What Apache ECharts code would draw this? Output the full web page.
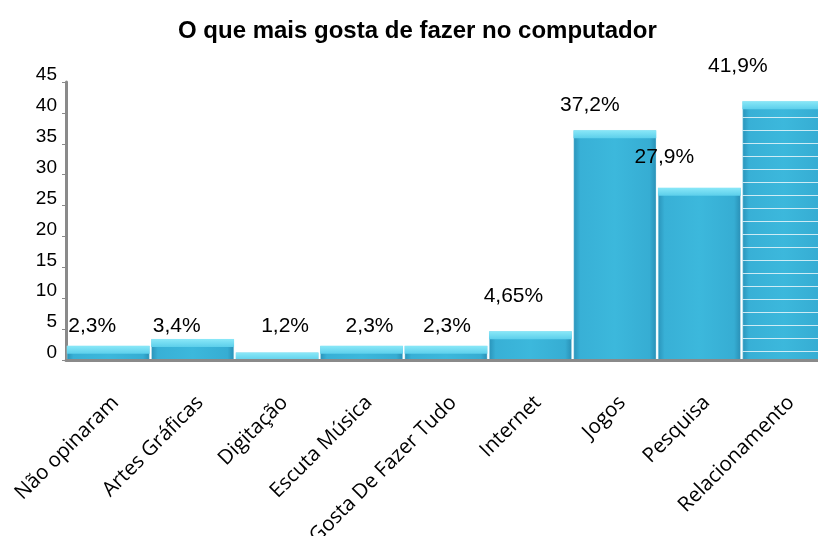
<!DOCTYPE html>
<html>
<head>
<meta charset="utf-8">
<script src="https://cdn.jsdelivr.net/npm/echarts@6/dist/echarts.min.js"></script>
<style>
  html, body { margin: 0; padding: 0; background: #fff; overflow: hidden; }
  #chart { width: 818px; height: 536px; }
</style>
</head>
<body>
<div id="chart"></div>
<script>
// dados
var categorias = ['Não opinaram', 'Artes Gráficas', 'Digitação', 'Escuta Música',
  'Gosta De Fazer Tudo', 'Internet', 'Jogos', 'Pesquisa', 'Relacionamento'];
var valores = [2.3, 3.4, 1.2, 2.3, 2.3, 4.65, 37.2, 27.9, 41.9];
var rotulos = ['2,3%', '3,4%', '1,2%', '2,3%', '2,3%', '4,65%', '37,2%', '27,9%', '41,9%'];
var yTicks = [0, 5, 10, 15, 20, 25, 30, 35, 40, 45];

// deslocamento dos rotulos (layout), como no original
var labelNudge = [[-16, -4], [-16, 3], [8, -11], [8, -4], [1, -4],
  [-17, -20], [-25, -9], [-35, -15], [-46, -19]];

var chart = echarts.init(document.getElementById('chart'));

var corpo = {
  type: 'linear', x: 0, y: 0, x2: 1, y2: 0,
  colorStops: [
    { offset: 0, color: '#2a94ba' },
    { offset: 0.08, color: '#38b0d6' },
    { offset: 0.5, color: '#3cb8dc' },
    { offset: 0.92, color: '#36add3' },
    { offset: 1, color: '#2990b6' }
  ]
};

var barData = valores.map(function (v, i) {
  var item = {
    value: v,
    label: { offset: labelNudge[i] }
  };
  if (i === valores.length - 1) {
    item.itemStyle = {
      decal: {
        symbol: 'rect',
        symbolSize: 1,
        dashArrayX: [1, 0],
        dashArrayY: [1, 11.5],
        color: 'rgba(255,255,255,0.75)'
      }
    };
  }
  return item;
});

var option = {
  animation: false,
  title: {
    text: 'O que mais gosta de fazer no computador',
    left: 173,
    top: 14,
    textStyle: {
      fontFamily: 'Liberation Sans',
      fontWeight: 'bold',
      fontSize: 24,
      color: '#000'
    }
  },
  grid: {
    left: 66,
    width: 760,
    top: 82,
    bottom: 176,
    outerBoundsMode: 'none',
    containLabel: false
  },
  xAxis: {
    type: 'category',
    data: categorias,
    z: 5,
    axisLine: { lineStyle: { color: '#8a8a8a', width: 3 } },
    axisTick: { show: false },
    axisLabel: {
      interval: 0,
      rotate: 45,
      margin: 32,
      verticalAlign: 'top',
      fontFamily: 'Open Sans',
      fontSize: 20.5,
      color: '#000'
    }
  },
  yAxis: {
    type: 'value',
    min: yTicks[0],
    max: yTicks[yTicks.length - 1],
    interval: 5,
    splitLine: { show: false },
    axisLine: { show: true, lineStyle: { color: '#8a8a8a', width: 3 } },
    axisTick: { show: true, length: 4, lineStyle: { color: '#8a8a8a', width: 1 } },
    axisLabel: {
      margin: 9,
      fontFamily: 'Liberation Sans',
      fontSize: 19,
      color: '#000',
      verticalAlign: 'bottom',
      lineHeight: 14
    }
  },
  series: [
    {
      type: 'bar',
      data: barData,
      barCategoryGap: '2%',
      itemStyle: {
        color: corpo,
        borderColor: 'rgba(200,240,250,0.7)',
        borderWidth: 0.5
      },
      label: {
        show: true,
        position: 'top',
        distance: 5,
        fontFamily: 'Liberation Sans',
        fontSize: 21,
        color: '#000',
        formatter: function (p) { return rotulos[p.dataIndex]; }
      }
    },
    {
      // faixa clara no topo de cada barra
      type: 'pictorialBar',
      data: valores,
      barCategoryGap: '2%',
      symbol: 'rect',
      symbolPosition: 'end',
      symbolSize: ['100%', 8],
      z: 3,
      silent: true,
      itemStyle: {
        color: {
          type: 'linear', x: 0, y: 0, x2: 0, y2: 1,
          colorStops: [
            { offset: 0, color: '#8ae8f8' },
            { offset: 1, color: '#5ccfeb' }
          ]
        }
      }
    }
  ]
};

chart.setOption(option);
</script>
</body>
</html>
